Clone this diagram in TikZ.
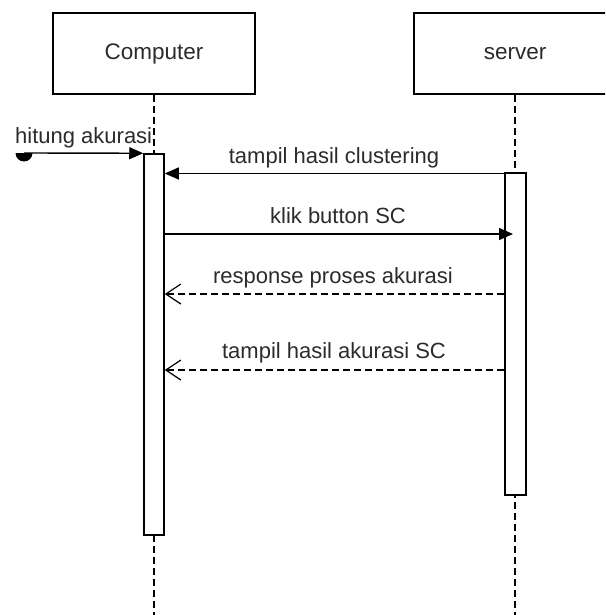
\documentclass[tikz,border=0pt]{standalone}
\usepackage{fontspec}
\setmainfont{Liberation Sans}
\usetikzlibrary{arrows.meta}
\definecolor{txt}{HTML}{2B2B2B}
\begin{document}
\begin{tikzpicture}[x=1pt,y=-1pt,
  lbl/.style={font=\fontsize{22}{24}\selectfont, text=txt, inner sep=0pt},
  headbox/.style={draw, line width=1.5pt, minimum width=202pt, minimum height=81pt,
    inner sep=0pt, font=\fontsize{22.5}{24}\selectfont, text=txt},
  actbar/.style={draw, fill=white, line width=1.5pt, minimum width=20pt, inner sep=0pt},
  lifeline/.style={line width=1.5pt, dash pattern=on 7pt off 4pt},
  syncmsg/.style={line width=1.4pt, -{Triangle[length=14pt,width=12pt]}},
  retmsg/.style={line width=1.2pt, dash pattern=on 7pt off 4pt,
    -{Straight Barb[length=15pt,width=20pt,line width=1.2pt]}}]
\useasboundingbox (0,0) rectangle (605,615);
\clip (0,0) rectangle (605,615);

% participants
\node[headbox] (comp) at (154,53.5) {Computer};
\node[headbox] (serv) at (515,53.5) {server};

% lifelines
\coordinate (compEnd) at (154,615);
\coordinate (servEnd) at (515,615);
\draw[lifeline] (comp.south) -- (compEnd);
\draw[lifeline] (serv.south) -- (servEnd);

% activation bars
\node[actbar, minimum height=381pt] (acomp) at (154,344.5) {};
\node[actbar, minimum height=322pt, minimum width=21pt] (aserv) at (515.5,334) {};

% row levels of the messages
\coordinate (r1) at (0,173.5);
\coordinate (r2) at (0,234);
\coordinate (r3) at (0,294);
\coordinate (r4) at (0,370);
\coordinate (found) at (24,153);
\coordinate (klikEnd) at (513,234);

% found message with its start dot
\fill (found) ++(-8.5pt,0) arc[start angle=180, end angle=360, radius=8.5pt] -- cycle;
\draw[syncmsg] (found) -- (acomp.north west);
\node[lbl, anchor=base west] (l0) at (15,143) {hitung akurasi};

% messages
\draw[syncmsg] (aserv.west |- r1) -- (acomp.east |- r1);
\node[lbl, anchor=base] (l1) at (334,163) {tampil hasil clustering};

\draw[syncmsg] (acomp.east |- r2) -- (klikEnd);
\node[lbl, anchor=base] (l2) at (338,223) {klik button SC};

\draw[retmsg] (aserv.west |- r3) -- (acomp.east |- r3);
\node[lbl, anchor=base] (l3) at (333,283) {response proses akurasi};

\draw[retmsg] (aserv.west |- r4) -- (acomp.east |- r4);
\node[lbl, anchor=base] (l4) at (334,358) {tampil hasil akurasi SC};
\end{tikzpicture}
\end{document}
